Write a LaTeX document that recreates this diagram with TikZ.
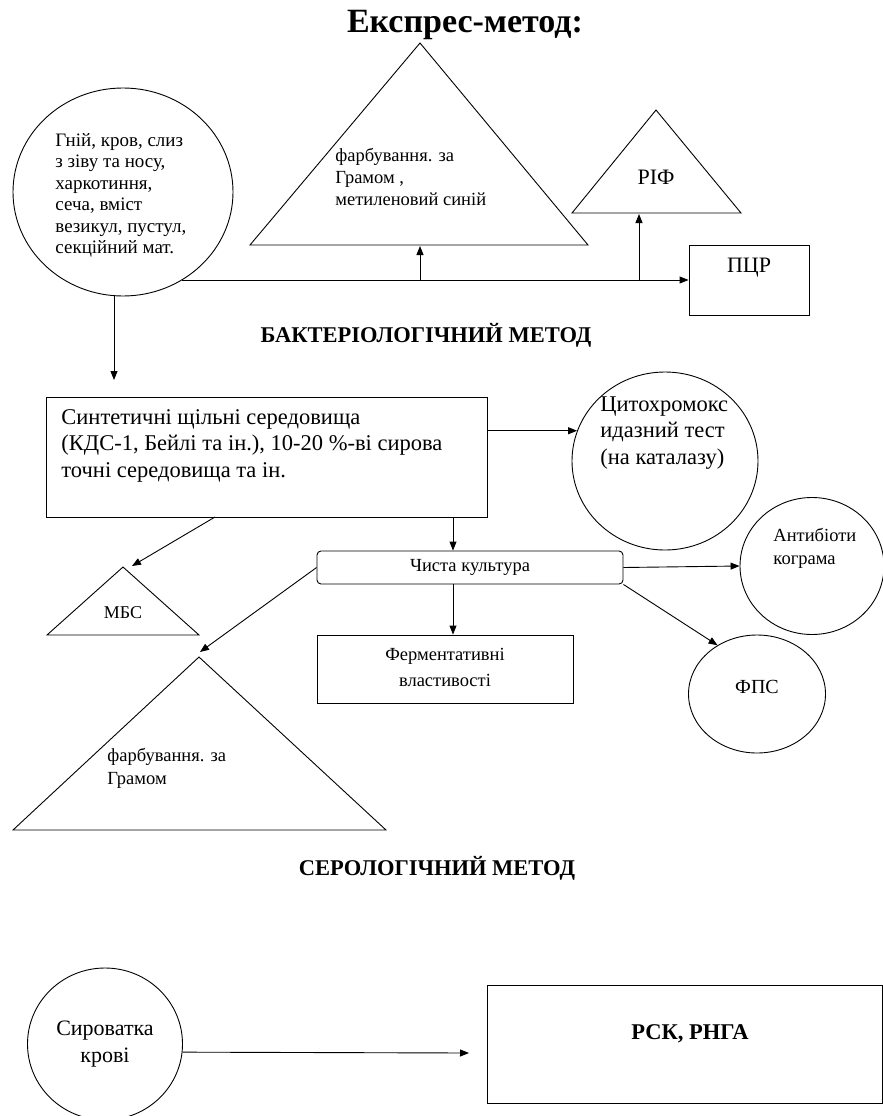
\documentclass[tikz,border=0pt]{standalone}
\usepackage{fontspec}
\setmainfont{Liberation Serif}
\usetikzlibrary{arrows.meta,shapes.geometric}
\newcommand\fsz[2]{\fontsize{#1}{#2}\selectfont}
\begin{document}
\begin{tikzpicture}[x=1pt,y=-1pt,line width=0.9pt,
  arr/.style={-{Triangle[width=7pt,length=9pt]}},
  boxnode/.style={draw,rectangle,inner sep=0pt},
  ellnode/.style={draw,ellipse,inner sep=0pt},
  txt/.style={inner sep=0pt,align=left,anchor=north west},
  ctxt/.style={inner sep=0pt,align=center,anchor=center},
  head/.style={inner sep=0pt,anchor=center,font=\bfseries\fsz{22.5}{26}}]
\useasboundingbox (0,0) rectangle (883,1116);

% ---------- titles
\node[inner sep=0pt,font=\bfseries\fsz{34}{40}] (title) at (465,25) {Експрес-метод:};
\node[head] (hbact) at (426,335) {БАКТЕРІОЛОГІЧНИЙ МЕТОД};
\node[head] (hser) at (437,868) {СЕРОЛОГІЧНИЙ МЕТОД};

% ---------- express method
\node[ellnode,minimum width=220pt,minimum height=208pt] (src) at (123,192) {};
\node[txt,font=\fsz{19}{21.5}] (srct) at (55,133) {Гній, кров, слиз\\з зіву та носу,\\харкотиння,\\сеча, вміст\\везикул, пустул,\\секційний мат.};

\coordinate (t1a) at (420,43);
\coordinate (t1l) at (250,245);
\coordinate (t1r) at (588,245);
\draw (t1a) -- (t1l) -- (t1r) -- cycle;
\node[txt,font=\fsz{18.5}{22}] (t1t) at (335,148) {фарбування. за\\Грамом ,\\метиленовий синій};

\coordinate (t2a) at (656,110);
\coordinate (t2l) at (572,213);
\coordinate (t2r) at (741,213);
\draw (t2a) -- (t2l) -- (t2r) -- cycle;
\node[ctxt,font=\fsz{22}{26}] (t2t) at (656,177) {РІФ};

\node[boxnode,minimum width=120pt,minimum height=70pt] (pcr) at (749,280) {};
\node[ctxt,font=\fsz{22}{26}] (pcrt) at (749,268) {ПЦР};

\coordinate (j0) at (182,280);
\coordinate (j1) at (420,280);
\coordinate (j1e) at (420,246);
\coordinate (j2) at (639,280);
\coordinate (j2e) at (639,214);
\draw[arr] (j0) -- (pcr.west);
\draw[arr] (j1) -- (j1e);
\draw[arr] (j2) -- (j2e);

% ---------- bacteriological method
\coordinate (s1) at (114,380);
\draw[arr] (src.south -| s1) -- (s1);

\node[boxnode,minimum width=441pt,minimum height=120pt] (syn) at (266.5,457) {};
\node[txt,font=\fsz{22.5}{26.5}] (synt) at (61,409) {Синтетичні щільні середовища\\(КДС-1, Бейлі та ін.), 10-20 \%-ві сирова\\точні середовища та ін.};

\node[ellnode,minimum width=186pt,minimum height=178pt] (cyto) at (665,461) {};
\node[txt,font=\fsz{22.5}{26.5}] (cytot) at (600,396) {Цитохромокс\\идазний тест\\(на каталазу)};
\draw[arr] (syn.east |- cyto.161.8) -- (cyto.161.8);

\node[boxnode,rounded corners=4pt,minimum width=306pt,minimum height=33pt] (chi) at (470,567.5) {};
\node[ctxt,font=\fsz{18.5}{22}] (chit) at (470,567) {Чиста культура};
\coordinate (cx) at (453,0);
\draw[arr] (syn.south -| cx) -- (chi.north -| cx);

\coordinate (m0) at (215,517);
\coordinate (m1) at (132,566);
\draw[arr] (m0) -- (m1);
\coordinate (t3a) at (123,567);
\coordinate (t3l) at (47,635);
\coordinate (t3r) at (199,635);
\draw (t3a) -- (t3l) -- (t3r) -- cycle;
\node[ctxt,font=\fsz{18}{22}] (t3t) at (123,613) {МБС};

\coordinate (g1) at (200,652);
\draw[arr] (chi.west) -- (g1);
\coordinate (t4a) at (199,657);
\coordinate (t4l) at (13,830);
\coordinate (t4r) at (386,830);
\draw (t4a) -- (t4l) -- (t4r) -- cycle;
\node[txt,font=\fsz{18.5}{23}] (t4t) at (107,748) {фарбування. за\\Грамом};

\node[boxnode,minimum width=256pt,minimum height=68pt] (fer) at (445,669) {};
\node[ctxt,font=\fsz{18.5}{26}] (fert) at (445,667) {Ферментативні\\властивості};
\draw[arr] (chi.south -| cx) -- (fer.north -| cx);

\node[ellnode,minimum width=144pt,minimum height=137pt] (ant) at (812,566) {};
\node[txt,font=\fsz{18.5}{23}] (antt) at (773,528) {Антибіоти\\кограма};
\draw[arr] (chi.east) -- (ant.west);

\node[ellnode,minimum width=137pt,minimum height=118pt] (fps) at (757,694) {};
\node[ctxt,font=\fsz{20}{24}] (fpst) at (757,687) {ФПС};
\draw[arr] (chi.south east) -- (fps.129.7);

% ---------- serological method
\node[ellnode,minimum width=155pt,minimum height=152pt] (syr) at (105,1044) {};
\node[ctxt,font=\fsz{22}{27}] (syrt) at (105,1044) {Сироватка\\крові};
\node[boxnode,minimum width=395pt,minimum height=118pt] (rsk) at (684.5,1044) {};
\node[ctxt,font=\bfseries\fsz{22.5}{26}] (rskt) at (690,1034) {РСК, РНГА};
\coordinate (r1) at (469,1053);
\draw[arr] (syr.-6.7) -- (r1);
\end{tikzpicture}
\end{document}
